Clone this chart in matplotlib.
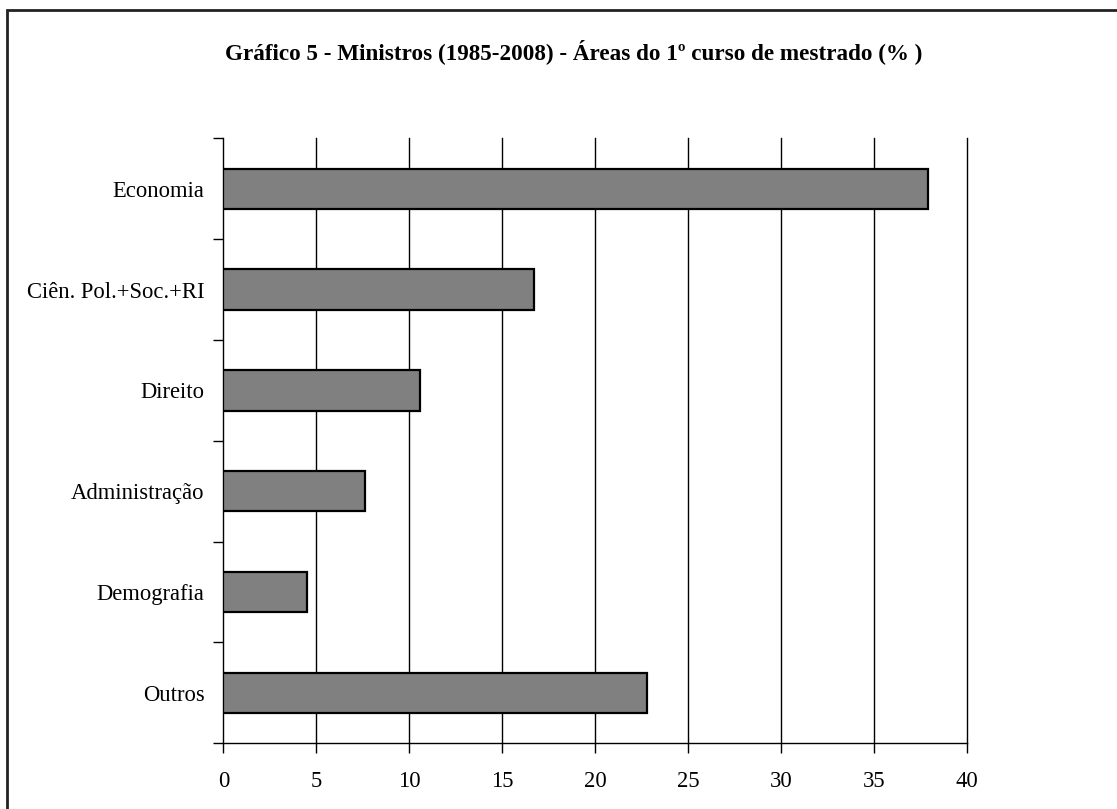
import matplotlib
matplotlib.use("Agg")
import matplotlib.pyplot as plt
from matplotlib.patches import Rectangle
import numpy as np

plt.rcParams["font.family"] = ["Liberation Serif", "DejaVu Serif"]

# dados
categorias = ["Economia", "Ciên. Pol.+Soc.+RI", "Direito", "Administração", "Demografia", "Outros"]
valores = [37.9, 16.7, 10.6, 7.6, 4.5, 22.8]
x_ticks = [0, 5, 10, 15, 20, 25, 30, 35, 40]
titulo = "Gráfico 5 - Ministros (1985-2008) - Áreas do 1º curso de mestrado (% )"

fig = plt.figure(figsize=(11.17, 8.09), dpi=100)
ax = fig.add_axes([0.2, 0.0812, 0.6657, 0.7478])

# moldura do gráfico (cortada à direita e em baixo)
fig.patches.append(Rectangle((7 / 1117, -0.05), 1.2, 1 - 10 / 809 + 0.05,
                             transform=fig.transFigure, fill=False,
                             edgecolor="#222222", linewidth=2.0))

y = np.arange(len(categorias))
ax.barh(y, valores, height=0.4, color="#808080", edgecolor="black",
        linewidth=1.6, zorder=3)

ax.set_xlim(0, 40)
ax.set_ylim(len(categorias) - 0.5, -0.5)
ax.set_xticks(x_ticks)
ax.set_xticklabels([str(t) for t in x_ticks])
# linhas de grelha verticais (a de 40 fica na borda, por isso sem recorte)
for t in x_ticks[1:]:
    ax.axvline(t, color="black", linewidth=1.0, zorder=0, clip_on=False)

ax.set_yticks(y)
ax.set_yticklabels(categorias)
ax.set_yticks(np.arange(-0.5, len(categorias)), minor=True)
ax.tick_params(axis="y", which="major", length=0, pad=13.5, labelsize=16.3)
ax.tick_params(axis="y", which="minor", length=7, width=1.0, direction="out")
ax.tick_params(axis="x", length=7, width=1.0, direction="out", pad=13, labelsize=16.3)

for s in ["top", "right"]:
    ax.spines[s].set_visible(False)
ax.spines["left"].set_linewidth(1.0)
ax.spines["bottom"].set_linewidth(1.0)
ax.spines["bottom"].set_bounds(0, 40)

fig.text(0.5 * (218 + 930) / 1117, 1 - 52 / 809, titulo, ha="center", va="center",
         fontsize=16.7, fontweight="bold")

fig.savefig("out.png", dpi=100)
